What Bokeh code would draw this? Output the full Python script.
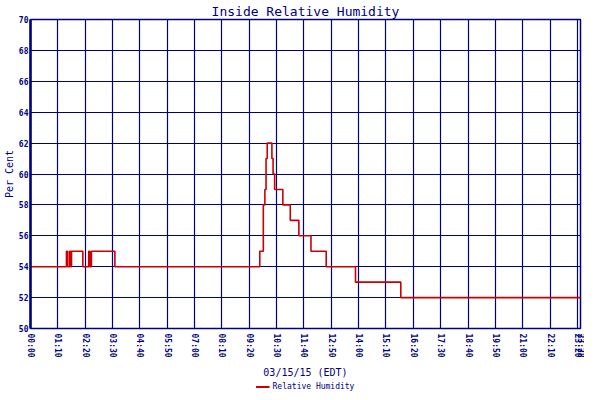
from bokeh.plotting import figure
from bokeh.layouts import column
from bokeh.models import FixedTicker, Legend, LegendItem, Range1d
from bokeh.embed import file_html
from bokeh.resources import INLINE

# Data: minutes since midnight (step change points) and relative humidity (%)
minutes = [0, 92, 95, 100, 103, 105, 134, 149, 152, 156, 216, 587, 596, 600, 603, 606,
           618, 621, 625, 646, 665, 687, 718, 757, 832, 948, 1408]
humidity = [54, 55, 54, 55, 54, 55, 54, 55, 54, 55, 54, 55, 58, 59, 61, 62,
            61, 60, 59, 58, 57, 56, 55, 54, 53, 52, 52]

x_tick_minutes = [0, 70, 140, 210, 280, 350, 420, 490, 560, 630, 700, 770, 840,
                  910, 980, 1050, 1120, 1190, 1260, 1330, 1400, 1408]
x_tick_labels = ["00:00", "01:10", "02:20", "03:30", "04:40", "05:50", "07:00", "08:10",
                 "09:20", "10:30", "11:40", "12:50", "14:00", "15:10", "16:20", "17:30",
                 "18:40", "19:50", "21:00", "22:10", "23:20", "23:28"]
y_ticks = [50, 52, 54, 56, 58, 60, 62, 64, 66, 68, 70]
series_name = "Relative Humidity"

NAVY = "#000080"
RED = "#cc0000"
FONT = "DejaVu Sans Mono"

p = figure(width=584, height=380, output_backend="svg", toolbar_location=None,
           x_range=Range1d(0, 1408), y_range=Range1d(50, 70),
           title="Inside Relative Humidity",
           min_border_left=0, min_border_right=4, min_border_top=0, min_border_bottom=0)

p.title.align = "center"
p.title.text_color = NAVY
p.title.text_font = FONT
p.title.text_font_size = "13px"
p.title.text_font_style = "normal"
p.title.standoff = 2
p.title.offset = 0

p.step(minutes, humidity, mode="after", line_color=RED, line_width=1.6)

p.xaxis.ticker = FixedTicker(ticks=x_tick_minutes)
p.xaxis.major_label_overrides = {t: l for t, l in zip(x_tick_minutes, x_tick_labels)}
p.xaxis.major_label_orientation = "vertical"
p.yaxis.ticker = FixedTicker(ticks=y_ticks)

for ax in (p.xaxis[0], p.yaxis[0]):
    ax.major_tick_out = 0
    ax.major_tick_in = 0
    ax.minor_tick_out = 0
    ax.minor_tick_in = 0
    ax.axis_line_color = NAVY
    ax.major_label_text_color = NAVY
    ax.major_label_text_font = FONT
    ax.major_label_text_font_style = "bold"
    ax.major_label_text_font_size = "8px"
    ax.major_label_standoff = 5
    ax.axis_label_text_color = NAVY
    ax.axis_label_text_font = FONT
    ax.axis_label_text_font_style = "normal"
    ax.axis_label_text_font_size = "10px"
    ax.axis_label_standoff = 6

p.yaxis.major_label_standoff = 2
p.yaxis.axis_label_standoff = 1
p.yaxis.axis_line_width = 2.5
p.xaxis.axis_line_width = 1
p.xaxis.axis_label = "03/15/15 (EDT)"
p.yaxis.axis_label = "Per Cent"

p.xgrid.ticker = FixedTicker(ticks=x_tick_minutes)
p.ygrid.ticker = FixedTicker(ticks=y_ticks)
for g in (p.xgrid[0], p.ygrid[0]):
    g.grid_line_color = NAVY
    g.grid_line_width = 1.2
    g.grid_line_alpha = 1.0

p.outline_line_color = NAVY
p.outline_line_width = 1.5
p.background_fill_color = "white"
p.border_fill_color = "white"

# Legend strip below the chart (its series lies outside this strip's range, so only the key shows)
lg = figure(width=584, height=12, output_backend="svg", toolbar_location=None,
            x_range=Range1d(0, 1408), y_range=Range1d(0, 1), min_border=0)
lg.axis.visible = False
lg.grid.visible = False
lg.outline_line_color = None
lr = lg.step(minutes, humidity, mode="after", line_color=RED, line_width=2)
legend = Legend(items=[LegendItem(label=series_name, renderers=[lr])],
                location="center", orientation="horizontal",
                label_text_font=FONT, label_text_font_size="8px", label_text_color=NAVY,
                glyph_width=14, glyph_height=6, label_height=8, label_standoff=3,
                padding=0, margin=0, border_line_color=None, background_fill_alpha=0)
lg.add_layout(legend, "center")

layout = column(p, lg, spacing=0)
open("out.html", "w").write(file_html(layout, INLINE))
